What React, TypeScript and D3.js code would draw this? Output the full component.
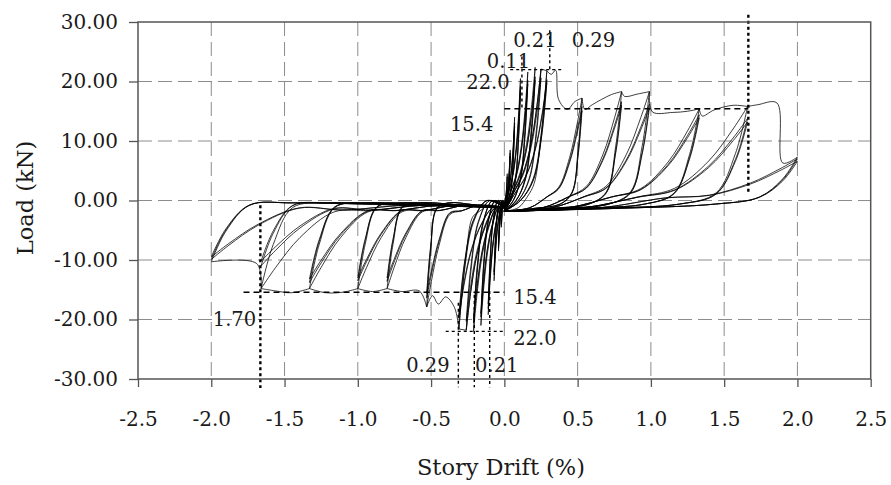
import React, { useEffect, useRef } from 'react';
import * as d3 from 'd3';

type Pt = [number, number];

const W = 891;
const H = 485;

const X_TICKS = [-2.5, -2.0, -1.5, -1.0, -0.5, 0.0, 0.5, 1.0, 1.5, 2.0, 2.5];
const Y_TICKS = [-30, -20, -10, 0, 10, 20, 30];

// peak drift (%) of each loading level, and the peak load (kN) reached in each of its cycles
const POS_DRIFT = [0.02, 0.04, 0.07, 0.11, 0.16, 0.21, 0.25, 0.29, 0.53, 0.8, 0.99, 1.33, 1.66, 2.0];
const POS_LOAD = [
    [4.5, 4.0],
    [8.5, 8.0, 7.5],
    [14.0, 13.0, 12.5],
    [20.5, 19.2, 18.6],
    [21.6, 20.2, 19.6],
    [22.4, 20.8, 20.2],
    [22.1, 20.6],
    [21.8, 20.3, 19.8],
    [17.2, 15.8, 15.1],
    [18.3, 16.6, 16.0],
    [18.3, 16.2, 15.6],
    [15.4, 14.4, 13.9],
    [15.8, 13.8, 13.2],
    [7.3, 7.0, 6.6],
];
const NEG_DRIFT = [-0.02, -0.04, -0.07, -0.11, -0.16, -0.21, -0.26, -0.31, -0.53, -0.8, -1.0, -1.33, -1.66, -2.0];
const NEG_LOAD = [
    [-4.5, -4.0],
    [-8.5, -8.0, -7.5],
    [-13.5, -12.5, -12.0],
    [-19.2, -18.2, -17.4],
    [-21.0, -19.6, -19.0],
    [-22.0, -20.6, -20.0],
    [-21.8, -20.3],
    [-21.6, -19.8, -19.2],
    [-17.9, -16.4, -15.6],
    [-14.8, -13.6, -13.0],
    [-14.8, -13.5, -13.0],
    [-14.8, -13.8, -13.2],
    [-14.8, -11.0, -10.2],
    [-10.3, -9.9, -9.5],
];

// envelope followed by the first cycle once it passes the previous peak
const POS_BACKBONE: Pt[] = [
    [0.29, 21.8], [0.32, 21.2], [0.35, 21.9], [0.37, 17.0], [0.43, 15.3], [0.48, 16.6], [0.53, 17.2],
    [0.55, 15.3], [0.6, 16.1], [0.73, 17.8], [0.8, 18.3],
    [0.82, 17.5], [0.91, 17.9], [0.99, 18.3],
    [1.01, 14.9], [1.15, 14.8], [1.25, 15.0], [1.33, 15.4],
    [1.35, 14.2], [1.43, 15.2], [1.56, 16.0], [1.66, 15.8],
    [1.73, 16.1], [1.86, 16.4], [1.9, 6.3], [2.0, 7.3],
];
const NEG_BACKBONE: Pt[] = [
    [-0.31, -21.6], [-0.34, -18.0], [-0.4, -16.2], [-0.45, -17.4], [-0.49, -16.0], [-0.53, -17.9],
    [-0.58, -15.2], [-0.7, -15.3], [-0.8, -14.8],
    [-0.9, -15.3], [-1.0, -14.8],
    [-1.1, -15.4], [-1.22, -15.5], [-1.33, -14.8],
    [-1.45, -15.5], [-1.56, -15.2], [-1.66, -14.8],
    [-1.69, -10.6], [-2.0, -10.3],
];

// branch shapes: fraction of peak drift, fraction of peak load, plus the slip load near zero
const SMALL_LIMIT = 0.35;
const SMALL_RELOAD_X = [0, 0.25, 0.5, 0.72, 0.88, 1];
const SMALL_RELOAD_FRAC = [0, 0.06, 0.2, 0.42, 0.7, 1];
const SMALL_UNLOAD_X = [1, 0.88, 0.68, 0.38, 0];
const SMALL_UNLOAD_FRAC = [1, 0.55, 0.17, 0, 0];
const RELOAD_X = [0, 0.33, 0.55, 0.7, 0.84, 0.94, 1];
const RELOAD_FRAC = [0, 0, 0.02, 0.13, 0.42, 0.76, 1];
const POS_RELOAD_SLIP = [-1.8, -1.2, 0.3, 0, 0, 0, 0];
const NEG_RELOAD_SLIP = [-1.2, -0.8, -1.4, 0, 0, 0, 0];
const UNLOAD_X = [1, 0.95, 0.87, 0.72, 0.4, 0];
const UNLOAD_FRAC = [1, 0.5, 0.08, 0, 0, 0];
const POS_UNLOAD_SLIP = [0, 0, 0, -0.6, -1.3, -1.8];
const NEG_UNLOAD_SLIP = [0, 0, 0, -0.4, -0.7, -1.2];

function halfCycles(drifts: number[], loads: number[][], backbone: Pt[], reloadSlip: number[], unloadSlip: number[]) {
    const out: Pt[][] = [];
    drifts.forEach((d, i) => {
        loads[i].forEach((p, c) => {
            let target: Pt = [d, p];
            if (c === 0 && i > 0) {
                const prev = drifts[i - 1];
                const seg = backbone.filter(([bx]) => Math.abs(bx) > Math.abs(prev) && Math.abs(bx) <= Math.abs(d) + 1e-9);
                if (seg.length) {
                    target = [prev, loads[i - 1][0]];
                    out.push([target, ...seg]);
                }
            }
            const end = unloadSlip[unloadSlip.length - 1];
            if (Math.abs(d) < SMALL_LIMIT) {
                out.push(SMALL_RELOAD_X.map((f, k) => [f * target[0], SMALL_RELOAD_FRAC[k] * target[1] + (k === 0 ? end : 0)] as Pt));
                out.push(SMALL_UNLOAD_X.map((f, k) => [f * d, SMALL_UNLOAD_FRAC[k] * p + (k === SMALL_UNLOAD_X.length - 1 ? end : 0)] as Pt));
            } else {
                out.push(RELOAD_X.map((f, k) => [f * target[0], RELOAD_FRAC[k] * target[1] + reloadSlip[k]] as Pt));
                out.push(UNLOAD_X.map((f, k) => [f * d, UNLOAD_FRAC[k] * p + unloadSlip[k]] as Pt));
            }
        });
    });
    return out;
}

export default function App() {
    const svgRef = useRef<SVGSVGElement>(null);

    useEffect(() => {
        document.body.style.margin = '0';
        const svg = d3.select(svgRef.current);
        svg.selectAll('*').remove();

        const x = d3.scaleLinear().domain([-2.5, 2.5]).range([138, 870.7]);
        const y = d3.scaleLinear().domain([-30, 30]).range([379, 22]);
        const font = '"DejaVu Serif", serif';

        // dashed grid
        const grid = svg.append('g')
            .attr('stroke', '#8c8c8c')
            .attr('stroke-width', 1)
            .attr('stroke-dasharray', '14,6');
        X_TICKS.slice(1, -1).forEach(t => {
            grid.append('line').attr('x1', x(t)).attr('x2', x(t)).attr('y1', y(30)).attr('y2', y(-30));
        });
        Y_TICKS.slice(1, -1).forEach(t => {
            grid.append('line').attr('x1', x(-2.5)).attr('x2', x(2.5)).attr('y1', y(t)).attr('y2', y(t));
        });

        // hysteresis loops
        const line = d3.line<Pt>()
            .x(d => x(d[0]))
            .y(d => y(d[1]))
            .curve(d3.curveCatmullRom.alpha(0.5));
        const branches = [
            ...halfCycles(POS_DRIFT, POS_LOAD, POS_BACKBONE, POS_RELOAD_SLIP, POS_UNLOAD_SLIP),
            ...halfCycles(NEG_DRIFT, NEG_LOAD, NEG_BACKBONE, NEG_RELOAD_SLIP, NEG_UNLOAD_SLIP),
        ];
        svg.append('g')
            .selectAll('path')
            .data(branches)
            .join('path')
            .attr('d', d => line(d))
            .attr('fill', 'none')
            .attr('stroke', '#000')
            .attr('stroke-width', 0.9)
            .attr('stroke-opacity', 0.85);

        // reference marks
        const marks = svg.append('g').attr('stroke', '#000').attr('fill', 'none');
        const mark = (x1: number, y1: number, x2: number, y2: number, dash: string, w: number) =>
            marks.append('line')
                .attr('x1', x(x1)).attr('y1', y(y1)).attr('x2', x(x2)).attr('y2', y(y2))
                .attr('stroke-dasharray', dash).attr('stroke-width', w);
        mark(0, 15.4, 1.665, 15.4, '6,4', 1.5);
        mark(0.04, 22, 0.4, 22, '3,3', 1.4);
        mark(1.665, 31.2, 1.665, 1.4, '3,3', 2.4);
        mark(0.12, 24.2, 0.12, 15.4, '3,3', 1.4);
        mark(0.31, 28.6, 0.31, 22, '3,3', 1.4);
        mark(-1.78, -15.4, 0, -15.4, '6,4', 1.5);
        mark(-0.4, -22, 0, -22, '3,3', 1.4);
        mark(-1.665, -0.8, -1.665, -31.5, '3,3', 2.4);
        mark(-0.314, -17.2, -0.314, -31.4, '3,3', 1.4);
        mark(-0.205, -15.9, -0.205, -31.4, '3,3', 1.4);
        mark(-0.1, -15.2, -0.1, -31.4, '3,3', 1.4);

        // frame
        svg.append('rect')
            .attr('x', x(-2.5)).attr('y', y(30))
            .attr('width', x(2.5) - x(-2.5)).attr('height', y(-30) - y(30))
            .attr('fill', 'none').attr('stroke', '#555').attr('stroke-width', 1.5);

        // axes
        const yAxis = svg.append('g')
            .attr('transform', `translate(${x(-2.5)},0)`)
            .call(d3.axisLeft(y).tickValues(Y_TICKS).tickFormat(d => (+d).toFixed(2)).tickSize(9).tickSizeOuter(0).tickPadding(11));
        const xAxis = svg.append('g')
            .attr('transform', `translate(0,${y(-30)})`)
            .call(d3.axisBottom(x).tickValues(X_TICKS).tickFormat(d => (+d).toFixed(1)).tickSize(8).tickSizeOuter(0).tickPadding(25));
        [yAxis, xAxis].forEach(a => {
            a.select('.domain').remove();
            a.selectAll('line').attr('stroke', '#555').attr('stroke-width', 1.3);
            a.selectAll('text').attr('fill', '#1a1a1a').attr('font-family', font).attr('font-size', 20);
        });

        // axis titles
        svg.append('text')
            .attr('transform', `translate(33,198) rotate(-90)`)
            .attr('text-anchor', 'middle')
            .attr('font-family', font).attr('font-size', 22.5).attr('fill', '#1a1a1a')
            .text('Load (kN)');
        svg.append('text')
            .attr('x', 501).attr('y', 475)
            .attr('text-anchor', 'middle')
            .attr('font-family', font).attr('font-size', 22.5).attr('fill', '#1a1a1a')
            .text('Story Drift (%)');

        // value labels
        const label = (text: string, dx: number, ly: number, anchor: string) =>
            svg.append('text')
                .attr('x', x(dx)).attr('y', y(ly))
                .attr('text-anchor', anchor)
                .attr('font-family', font).attr('font-size', 19.5).attr('fill', '#1a1a1a')
                .text(text);
        label('0.21', 0.06, 25.8, 'start');
        label('0.29', 0.46, 25.8, 'start');
        label('0.11', -0.12, 22.3, 'start');
        label('22.0', -0.26, 18.8, 'start');
        label('15.4', -0.075, 11.6, 'end');
        label('15.4', 0.06, -17.4, 'start');
        label('22.0', 0.06, -24.3, 'start');
        label('0.29', -0.67, -28.8, 'start');
        label('0.21', -0.2, -28.8, 'start');
        label('1.70', -1.99, -21.1, 'start');
    }, []);

    return <svg ref={svgRef} width={W} height={H} style={{ display: 'block', background: '#fff' }} />;
}
